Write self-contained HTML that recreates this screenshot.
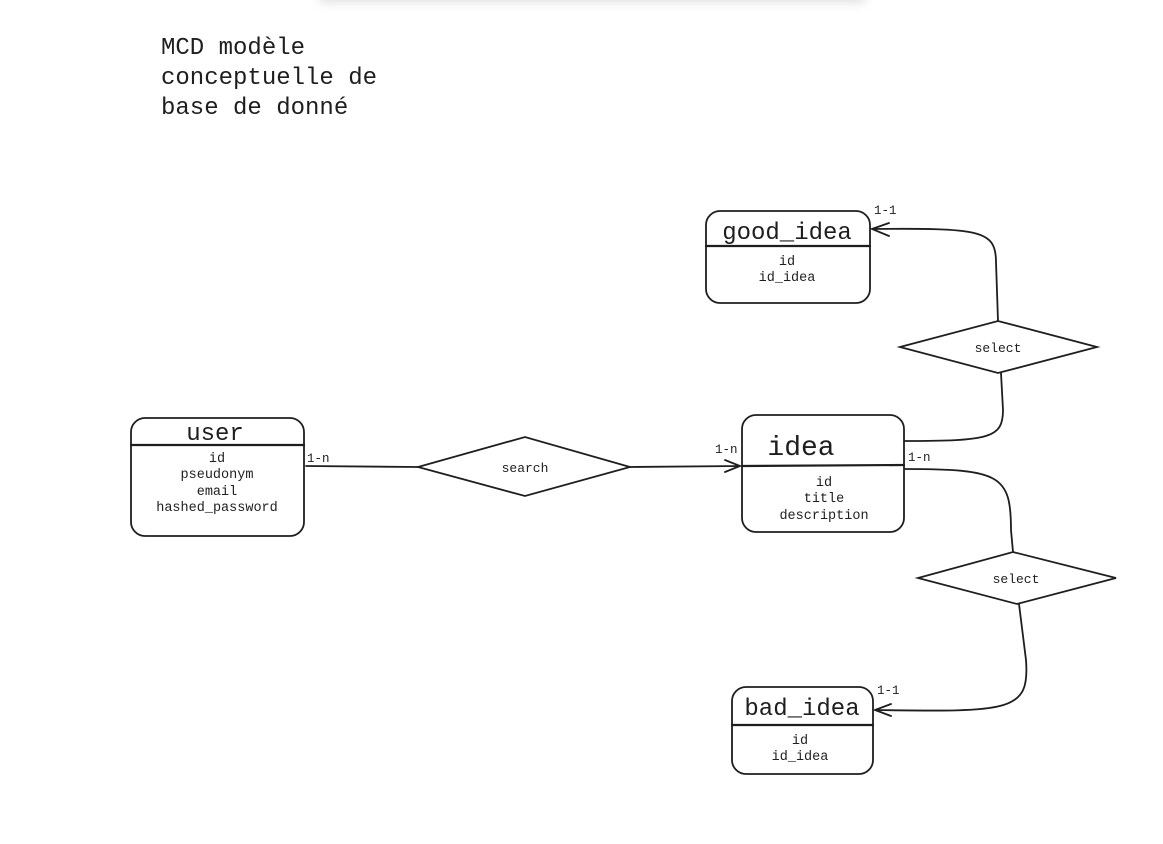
<!DOCTYPE html>
<html><head><meta charset="utf-8"><style>
html,body{margin:0;padding:0;background:#fff;}
svg{display:block;}
text{font-family:"Liberation Mono","DejaVu Sans Mono",monospace;fill:#1e1e1e;}
</style></head><body>
<svg width="1163" height="844" viewBox="0 0 1163 844" xmlns="http://www.w3.org/2000/svg">
<defs><filter id="b" x="-20%" y="-200%" width="140%" height="500%"><feGaussianBlur stdDeviation="5"/></filter></defs>
<rect x="320" y="-10" width="545" height="12" fill="#ddd" filter="url(#b)"/>
<g font-size="24">
<text x="161" y="54">MCD modèle</text>
<text x="161" y="84">conceptuelle de</text>
<text x="161" y="114">base de donné</text>
</g>
<g fill="none" stroke="#1e1e1e" stroke-width="1.8" stroke-linecap="round">
<rect x="131" y="418" width="173" height="118" rx="14"/>
<line x1="131" y1="445" x2="304" y2="445" stroke-width="2.2"/>
<rect x="742" y="415" width="162" height="117" rx="14"/>
<line x1="742" y1="466" x2="904" y2="465" stroke-width="2.2"/>
<rect x="706" y="211" width="164" height="92" rx="14"/>
<line x1="706" y1="246" x2="870" y2="246" stroke-width="2.2"/>
<rect x="732" y="687" width="141" height="87" rx="14"/>
<line x1="732" y1="725" x2="873" y2="725" stroke-width="2.2"/>
<path d="M418,467 L525,437 L630,467 L525,496 Z"/>
<path d="M900,347 L998,321 L1097,347 L998,373 Z"/>
<path d="M918,578 L1013,552 L1116,578 L1017,604 Z"/>
<path d="M306,466 L418,467"/>
<path d="M630,467 L740,466 M725,460 L740,466 L725,472"/>
<path d="M904,441 C990,441 1003,438 1003,410 L1001,373"/>
<path d="M998,321 L996,262 C996,230 980,228 872,229 M889,223 L872,229 L889,236"/>
<path d="M905,469 C1000,469 1011,475 1011,530 L1013,552"/>
<path d="M1019,604 L1026,660 C1030,712 1010,712 875,710 M891,704 L875,710 L891,716"/>
</g>
<g text-anchor="middle">
<text x="215" y="440" font-size="24">user</text>
<g font-size="13.5"><text x="217" y="462">id</text><text x="217" y="478">pseudonym</text><text x="217" y="495">email</text><text x="217" y="511">hashed_password</text></g>
<text x="801" y="455" font-size="28">idea</text>
<g font-size="13.5"><text x="824" y="486">id</text><text x="824" y="502">title</text><text x="824" y="519">description</text></g>
<text x="787" y="239" font-size="24">good_idea</text>
<g font-size="13.5"><text x="787" y="265">id</text><text x="787" y="281">id_idea</text></g>
<text x="802" y="715" font-size="24">bad_idea</text>
<g font-size="13.5"><text x="800" y="744">id</text><text x="800" y="760">id_idea</text></g>
<g font-size="13"><text x="525" y="472">search</text><text x="998" y="352">select</text><text x="1016" y="583">select</text></g>
</g>
<g font-size="12.5">
<text x="307" y="462">1-n</text><text x="715" y="453">1-n</text><text x="908" y="461">1-n</text>
<text x="874" y="214">1-1</text><text x="877" y="694">1-1</text>
</g>
</svg>
</body></html>
